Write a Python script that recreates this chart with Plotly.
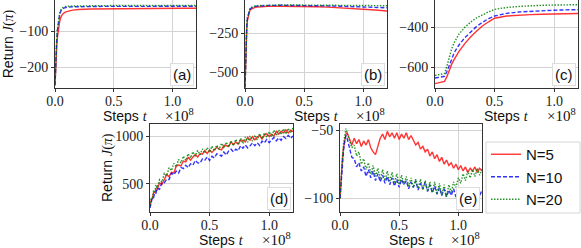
import plotly.graph_objects as go

# ---------------- data ----------------
AB_STEPS = [0, 0.005, 0.01, 0.015, 0.02, 0.03, 0.04, 0.05, 0.06, 0.08, 0.1, 0.15,
            0.2, 0.3, 0.4, 0.5, 0.6, 0.7, 0.8, 0.9, 1.0, 1.1, 1.2]

A_RED = [-250, -200, -168, -140, -118, -90, -72, -61, -54, -48, -45, -41,
         -39, -37.5, -37, -36.5, -36.5, -36, -36, -36, -36, -35.5, -35.5]
A_BLUE = [-250, -190, -150, -120, -98, -68, -52, -43, -38, -34.5, -33, -31.5,
          -31, -31, -30.5, -30.5, -30.5, -30, -30, -30, -30, -30, -30]
A_GREEN = [-250, -188, -147, -117, -95, -65, -49, -40, -35, -31.5, -30, -29.5,
           -29, -28.5, -28.5, -28, -28, -28, -28, -28, -28, -28, -28]

B_RED = [-600, -420, -300, -220, -170, -125, -105, -95, -90, -84, -80, -77,
         -76, -75, -75, -76, -78, -81, -85, -88, -92, -99, -106]
B_BLUE = [-600, -400, -280, -200, -155, -115, -97, -88, -83, -77, -74, -71,
          -70, -69, -69, -70, -71, -73, -75, -77, -79, -82, -85]
B_GREEN = [-600, -395, -275, -195, -150, -110, -93, -84, -79, -74, -71, -69,
           -68, -67, -67, -67, -67, -68, -68, -69, -70, -71, -72]

C_STEPS = [0, 0.02, 0.04, 0.06, 0.08, 0.1, 0.12, 0.14, 0.16, 0.18, 0.2, 0.25,
           0.3, 0.35, 0.4, 0.45, 0.5, 0.6, 0.7, 0.8, 0.9, 1.0, 1.1, 1.2]
C_RED = [-683, -681, -679, -676, -672, -648, -612, -585, -562, -540, -522, -482,
         -447, -418, -392, -372, -354, -343, -338, -336, -334, -332, -331, -330]
C_BLUE = [-655, -653, -651, -649, -646, -622, -588, -555, -530, -508, -490, -452,
          -422, -395, -374, -356, -343, -330, -323, -319, -316, -314, -312, -311]
C_GREEN = [-642, -640, -638, -636, -632, -595, -550, -508, -478, -455, -435, -400,
           -373, -352, -336, -322, -310, -300, -295, -291, -289, -288, -287, -286]

DE_STEPS = [0, 0.01, 0.02, 0.03, 0.04, 0.05, 0.06,
            0.08, 0.10, 0.12, 0.14, 0.16, 0.18, 0.20, 0.22, 0.24, 0.26, 0.28, 0.30,
            0.32, 0.34, 0.36, 0.38, 0.40, 0.42, 0.44, 0.46, 0.48, 0.50,
            0.52, 0.54, 0.56, 0.58, 0.60, 0.62, 0.64, 0.66, 0.68, 0.70,
            0.72, 0.74, 0.76, 0.78, 0.80, 0.82, 0.84, 0.86, 0.88, 0.90,
            0.92, 0.94, 0.96, 0.98, 1.00, 1.02, 1.04, 1.06, 1.08, 1.10,
            1.12, 1.14, 1.16, 1.18, 1.20]

D_RED = [260, 335, 350, 410, 410, 445, 440,
         510, 495, 551, 597, 577, 621, 615, 684, 698, 688, 739, 730,
         777, 749, 781, 808, 780, 818, 811, 849, 817, 855,
         828, 861, 884, 862, 855, 903, 901, 889, 937, 910,
         937, 914, 956, 953, 940, 986, 957, 993, 959, 990,
         1005, 970, 1010, 1025, 995, 1020, 1000, 1050, 1020, 1050,
         1034, 1063, 1032, 1061, 1045]
D_BLUE = [250, 300, 360, 355, 410, 405, 458,
          445, 515, 512, 549, 546, 613, 595, 634, 613, 672, 661, 695,
          670, 710, 695, 745, 720, 718, 761, 749, 782, 745,
          788, 771, 814, 807, 790, 833, 801, 844, 862, 835,
          863, 846, 899, 872, 905, 876, 897, 928, 899, 930,
          901, 947, 928, 964, 930, 960, 985, 950, 980, 955,
          994, 973, 1007, 976, 1000]
D_GREEN = [270, 350, 355, 430, 415, 490, 460,
           545, 520, 610, 585, 670, 640, 715, 680, 755, 720, 790, 745,
           815, 770, 835, 790, 850, 805, 865, 820, 880, 830,
           895, 845, 905, 860, 925, 870, 935, 885, 950, 900,
           965, 910, 975, 920, 990, 935, 1000, 945, 1010, 960,
           1025, 970, 1035, 985, 1045, 990, 1060, 1005, 1065, 1015,
           1075, 1020, 1080, 1030, 1085]

E_RED = [-100, -84, -72, -63, -57, -53, -52,
         -57, -61, -56, -60, -57, -62, -58, -61, -57, -63, -66, -68,
         -62, -56, -53, -57, -51, -55, -52, -56, -52, -57,
         -53, -56, -52, -57, -54, -58, -61, -59, -64, -62,
         -66, -64, -69, -66, -71, -68, -73, -70, -75, -72,
         -76, -74, -78, -75, -79, -76, -80, -77, -81, -78,
         -80, -77, -81, -78, -80]
E_BLUE = [-100, -86, -74, -65, -58, -54, -56,
          -63, -70, -71, -77, -74, -80, -77, -84, -79, -85, -80, -87,
          -82, -88, -83, -89, -84, -90, -85, -91, -86, -92,
          -86, -90, -87, -93, -88, -92, -87, -94, -89, -93,
          -88, -95, -90, -96, -91, -97, -92, -98, -93, -99,
          -94, -98, -93, -99, -94, -98, -93, -99, -94, -98,
          -93, -97, -93, -98, -94]
E_GREEN = [-100, -83, -70, -60, -53, -49, -52,
           -58, -63, -61, -69, -66, -75, -71, -79, -74, -82, -76, -84,
           -78, -86, -79, -87, -80, -88, -81, -89, -82, -90,
           -83, -90, -84, -91, -85, -92, -86, -93, -86, -94,
           -87, -95, -88, -96, -88, -97, -89, -98, -90, -99,
           -90, -96, -88, -92, -85, -89, -82, -87, -80, -85,
           -79, -84, -78, -83, -79]

SERIES_NAMES = ["N=5", "N=10", "N=20"]
PANEL_LABELS = ["(a)", "(b)", "(c)", "(d)", "(e)"]
X_TICKS = [0, 0.5, 1.0]
X_TICKTEXT = ["0.0", "0.5", "1.0"]
Y_TICKS = [[-100, -200], [-250, -500], [-400, -600], [500, 1000], [-50, -100]]
Y_TICKTEXT = [["\u2212100", "\u2212200"], ["\u2212250", "\u2212500"],
              ["\u2212400", "\u2212600"], ["500", "1000"], ["\u221250", "\u2212100"]]

panels = [
    (AB_STEPS, [A_RED, A_BLUE, A_GREEN]),
    (AB_STEPS, [B_RED, B_BLUE, B_GREEN]),
    (C_STEPS, [C_RED, C_BLUE, C_GREEN]),
    (DE_STEPS, [D_RED, D_BLUE, D_GREEN]),
    (DE_STEPS, [E_RED, E_BLUE, E_GREEN]),
]

# ---------------- layout geometry (pixels) ----------------
W, H = 581, 248
boxes = [  # left, right, top, bottom in px
    (55, 196, 0, 88),
    (245, 387, 0, 88),
    (435, 578, 0, 88),
    (150, 293, 124, 212),
    (340, 482, 124, 212),
]
y_ranges = [[-258, -14], [-603, -38], [-705, -265], [208, 1125], [-110, -45.6]]

colors = ["rgba(255,0,0,0.8)", "rgba(0,0,255,0.8)", "rgba(0,128,0,0.85)"]
dashes = ["solid", "4px,2px", "1.5px,1.5px"]

SANS = "Liberation Sans, Arial, sans-serif"
SERIF = "Liberation Serif, Times New Roman, serif"

fig = go.Figure()
for i, (steps, series) in enumerate(panels):
    ax = "" if i == 0 else str(i + 1)
    for j, vals in enumerate(series):
        fig.add_trace(go.Scatter(
            x=steps, y=vals, mode="lines",
            name=SERIES_NAMES[j], legendgroup=SERIES_NAMES[j],
            showlegend=(i == 0),
            line=dict(color=colors[j], width=1.4, dash=dashes[j]),
            xaxis="x" + ax, yaxis="y" + ax,
        ))

layout = dict(
    width=W, height=H,
    margin=dict(l=0, r=0, t=0, b=0),
    paper_bgcolor="white", plot_bgcolor="white",
    template="none",
    showlegend=True,
    legend=dict(x=486 / W, y=1 - 138 / H, xanchor="left", yanchor="top",
                borderwidth=0, bgcolor="rgba(0,0,0,0)",
                font=dict(family=SANS, size=15, color="#111"),
                itemwidth=30, tracegroupgap=0),
    shapes=[dict(type="rect", xref="paper", yref="paper",
                 x0=486 / W, x1=580 / W, y0=1 - 213 / H, y1=1 - 142 / H,
                 line=dict(color="#d6d6d6", width=1), fillcolor="white",
                 layer="below")],
)

annotations = []
for i, (l, r, t, b) in enumerate(boxes):
    ax = "" if i == 0 else str(i + 1)
    common = dict(showline=True, linecolor="#333", linewidth=1, mirror=True,
                  showgrid=True, gridcolor="#d3d3d3", gridwidth=1,
                  ticks="outside", ticklen=3, tickcolor="#333", zeroline=False,
                  tickfont=dict(family=SERIF, size=14, color="#222"),
                  automargin=False)
    layout["xaxis" + ax] = dict(
        domain=[l / W, r / W], anchor="y" + ax, range=[0, 1.2],
        tickvals=X_TICKS, ticktext=X_TICKTEXT, ticklabelstandoff=-3, **common)
    layout["yaxis" + ax] = dict(
        domain=[1 - b / H, min(1 - t / H, 0.998)], anchor="x" + ax,
        range=y_ranges[i], tickvals=Y_TICKS[i], ticktext=Y_TICKTEXT[i], **common)
    xr = "x" + ax + " domain"
    yr = "y" + ax + " domain"
    ylab = (b + 28) / H
    annotations.append(dict(
        xref=xr, x=0.5, yref="paper", y=1 - ylab, xanchor="center", yanchor="middle",
        text="Steps <span style='font-family:Liberation Serif'><i>t</i></span>",
        showarrow=False, font=dict(family=SANS, size=14, color="#111")))
    annotations.append(dict(
        xref=xr, x=1, yref="paper", y=1 - (b + 27) / H, xanchor="right", yanchor="middle",
        text="\u00d710<sup>8</sup>", showarrow=False,
        font=dict(family=SERIF, size=15, color="#111")))
    annotations.append(dict(
        xref=xr, x=1, yref=yr, y=0, xanchor="right", yanchor="bottom",
        xshift=-2, yshift=2, text=PANEL_LABELS[i], showarrow=False,
        bgcolor="white", bordercolor="#dddddd", borderwidth=1, borderpad=2,
        font=dict(family=SANS, size=15, color="#111")))

for i, xpx in [(0, 8), (3, 107)]:
    ax = "" if i == 0 else str(i + 1)
    annotations.append(dict(
        xref="paper", x=xpx / W, yref="y" + ax + " domain", y=0.5,
        xanchor="center", yanchor="middle", textangle=-90,
        text="Return <span style='font-family:Liberation Serif'><i>J</i>(<i>\u03c0</i>)</span>",
        showarrow=False, font=dict(family=SANS, size=14, color="#111")))

layout["annotations"] = annotations
fig.update_layout(**layout)
fig.write_html("out.html", config={"displayModeBar": False},
               post_script="document.body.style.margin='0';document.body.style.padding='0';")
